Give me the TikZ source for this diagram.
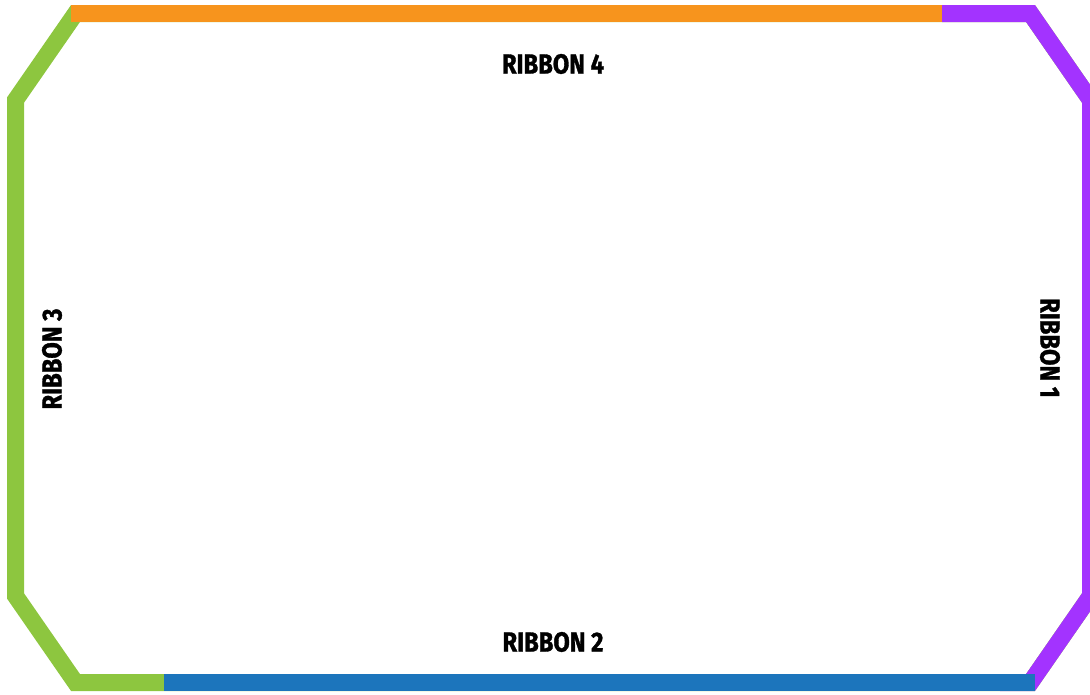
\documentclass[tikz,border=0pt]{standalone}
\usepackage{fontspec}
\newfontfamily\ribfont[FakeStretch=0.86,FakeBold=1.2]{Fira Sans}
\definecolor{ribgreen}{HTML}{8DC63F}
\definecolor{riborange}{HTML}{F7941D}
\definecolor{ribpurple}{HTML}{A333FF}
\definecolor{ribblue}{HTML}{1C75BC}
\begin{document}
\begin{tikzpicture}[x=1pt,y=-1pt,
  rib/.style={line width=17pt, line join=miter, line cap=butt},
  lab/.style={font=\ribfont\bfseries\fontsize{27.6}{30}\selectfont, inner sep=0pt}]
\useasboundingbox (0,0) rectangle (1090,694);
\clip (0,0) rectangle (1090,694);
\coordinate (tlT) at (75.5,13.5);
\coordinate (trT) at (1030.5,13.5);
\coordinate (trR) at (1090.5,100.1);
\coordinate (brR) at (1090.5,595.9);
\coordinate (brB) at (1030.5,682.5);
\coordinate (blB) at (75.5,682.5);
\coordinate (blL) at (15.5,595.9);
\coordinate (tlL) at (15.5,100.1);
\coordinate (oS) at (71,13.5);
\coordinate (oE) at (942,13.5);
\coordinate (pE) at (1000,682.5);
\coordinate (bS) at (164,682.5);
\coordinate (bE) at (1035,682.5);
\draw[rib,ribgreen] (tlT) -- (trT) -- (trR) -- (brR) -- (brB) -- (blB) -- (blL) -- (tlL) -- cycle;
\draw[rib,riborange] (oS) -- (oE);
\draw[rib,ribpurple] (oE) -- (trT) -- (trR) -- (brR) -- (brB) -- (pE);
\draw[rib,ribblue] (bS) -- (bE);
\node[lab] (r4) at (553,64) {RIBBON 4};
\node[lab] (r2) at (553,642) {RIBBON 2};
\node[lab,rotate=90] (r3) at (52,359) {RIBBON 3};
\node[lab,rotate=-90] (r1) at (1050,348) {RIBBON 1};
\end{tikzpicture}
\end{document}
